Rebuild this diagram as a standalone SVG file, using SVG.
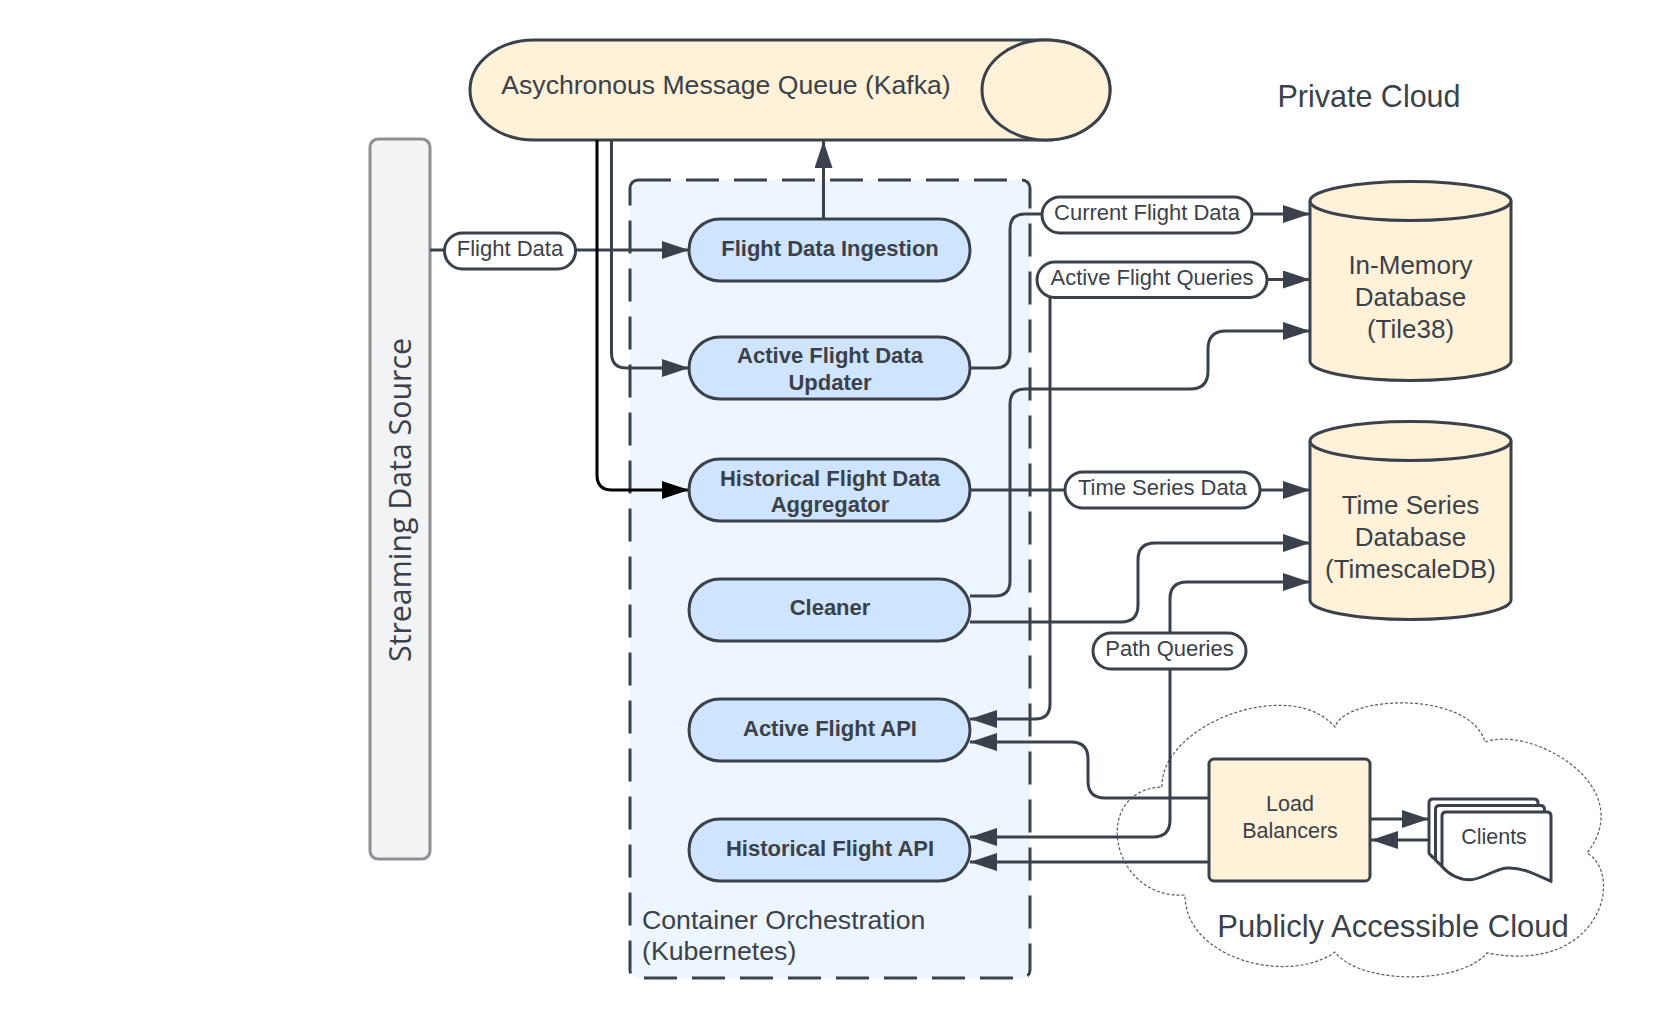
<svg xmlns="http://www.w3.org/2000/svg" width="1675" height="1028" viewBox="0 0 1675 1028">
<style>
.t{font-family:"Liberation Sans",Arial,sans-serif;fill:#3a414a;text-anchor:middle}
.node{fill:#cfe4ff;stroke:#3a414a;stroke-width:3}
.nt{font-size:22px;font-weight:bold}
.lbl{fill:#ffffff;stroke:#3a414a;stroke-width:3}
.lt{font-size:22px}
.db{fill:#fff2d8;stroke:#3a414a;stroke-width:3}
.dbt{font-size:26px}
.ln{fill:none;stroke:#3a414a;stroke-width:3}
.doc{fill:#ffffff;stroke:#3a414a;stroke-width:3;stroke-linejoin:round}
</style>
<defs>
<marker id="arr" markerUnits="userSpaceOnUse" viewBox="0 0 28 20" markerWidth="28" markerHeight="20" refX="27" refY="9" orient="auto-start-reverse"><path d="M0,0 L27,9 L0,18 Z" fill="#3a414a"/></marker>
<marker id="arrk" markerUnits="userSpaceOnUse" viewBox="0 0 28 20" markerWidth="28" markerHeight="20" refX="27" refY="9" orient="auto-start-reverse"><path d="M0,0 L27,9 L0,18 Z" fill="#000000"/></marker>
<path id="docshape" d="M4,0 H105 Q109,0 109,4 V69.4 C95,63 80,55 65,56 C52,57 40,67.7 28,67.7 C14,67.7 5,60 0,54.4 V4 Q0,0 4,0 Z"/>
</defs>
<rect width="1675" height="1028" fill="#ffffff"/>

<g id="public-cloud">
<path d="M1162,787 C1160,725 1290,675 1335,727 C1345,695 1470,690 1485,742 C1530,725 1640,785 1587,853 C1625,875 1600,975 1487,953 C1460,985 1360,985 1335,952 C1290,985 1185,960 1185,895 C1110,900 1090,790 1162,787 Z" fill="#ffffff" stroke="#555a60" stroke-width="1.2" stroke-dasharray="3 2"/>
<text class="t" x="1393" y="937" font-size="31px">Publicly Accessible Cloud</text>
</g>

<g id="private-cloud-label">
<text class="t" x="1369" y="107" font-size="30.5px">Private Cloud</text>
</g>

<g id="container-orchestration">
<rect x="630" y="180" width="400" height="798" rx="8" fill="#edf5ff" stroke="#3a414a" stroke-width="3" stroke-dasharray="33 15"/>
<text class="t" x="642" y="929" font-size="26.7px" style="text-anchor:start">Container Orchestration</text>
<text class="t" x="642" y="960" font-size="26.7px" style="text-anchor:start">(Kubernetes)</text>
</g>

<g id="streaming-data-source">
<rect x="370" y="139" width="60" height="720" rx="8" fill="#f2f3f5" stroke="#8c8f94" stroke-width="3"/>
<text x="0" y="0" transform="translate(411,500) rotate(-90)" font-family="'Open Sans',sans-serif" font-size="30.3px" fill="#3a414a" text-anchor="middle">Streaming Data Source</text>
</g>

<g id="kafka">
<path d="M534,40 H1046 A64,50 0 0 1 1046,140 H534 A64,50 0 0 1 534,40 Z" class="db"/>
<ellipse cx="1046" cy="90" rx="64" ry="50" class="db"/>
<text class="t" x="726" y="94" font-size="26.6px">Asychronous Message Queue (Kafka)</text>
</g>

<g id="connectors">
<path class="ln" d="M430,250 H689" marker-end="url(#arr)"/>
<path class="ln" d="M823.5,219 V141" marker-end="url(#arr)"/>
<path class="ln" d="M611.5,140 V353 Q611.5,368 626.5,368 H689" marker-end="url(#arr)"/>
<path d="M597,140 V475 Q597,490 612,490 H689" fill="none" stroke="#000000" stroke-width="3" marker-end="url(#arrk)"/>
<path class="ln" d="M970,368 H995 Q1010,368 1010,353 V229 Q1010,214 1025,214 H1310" marker-end="url(#arr)"/>
<path class="ln" d="M1310,279.5 H1065 Q1050,279.5 1050,294.5 V704 Q1050,719 1035,719 H970" marker-start="url(#arr)" marker-end="url(#arr)"/>
<path class="ln" d="M970,490 H1310" marker-end="url(#arr)"/>
<path class="ln" d="M970,596 H995 Q1010,596 1010,581 V404 Q1010,389 1025,389 H1190 Q1208,389 1208,371 V349 Q1208,331 1226,331 H1310" marker-end="url(#arr)"/>
<path class="ln" d="M970,622 H1121 Q1138,622 1138,605 V560 Q1138,543 1155,543 H1310" marker-end="url(#arr)"/>
<path class="ln" d="M1310,582 H1187 Q1170,582 1170,599 V820 Q1170,837 1153,837 H970" marker-start="url(#arr)" marker-end="url(#arr)"/>
<path class="ln" d="M1209,798 H1105 Q1088,798 1088,781 V759 Q1088,742 1071,742 H970" marker-end="url(#arr)"/>
<path class="ln" d="M1209,862 H970" marker-end="url(#arr)"/>
<path class="ln" d="M1370,819 H1429" marker-end="url(#arr)"/>
<path class="ln" d="M1429,840 H1371" marker-end="url(#arr)"/>
</g>

<g id="lbl-flight-data">
<rect x="444.5" y="233" width="131" height="36" rx="18" class="lbl"/>
<text class="t lt" x="510" y="256">Flight Data</text>
</g>
<g id="lbl-current-flight-data">
<rect x="1042" y="197" width="210" height="36" rx="18" class="lbl"/>
<text class="t lt" x="1147" y="219.5">Current Flight Data</text>
</g>
<g id="lbl-active-flight-queries">
<rect x="1037" y="262" width="230" height="35.5" rx="17.75" class="lbl"/>
<text class="t lt" x="1152" y="284.5">Active Flight Queries</text>
</g>
<g id="lbl-time-series-data">
<rect x="1065" y="472" width="195" height="36" rx="18" class="lbl"/>
<text class="t lt" x="1162.5" y="494.5">Time Series Data</text>
</g>
<g id="lbl-path-queries">
<rect x="1093" y="633" width="153" height="36" rx="18" class="lbl"/>
<text class="t lt" x="1169.5" y="656">Path Queries</text>
</g>

<g id="flight-data-ingestion">
<rect x="689" y="219" width="281" height="62" rx="31" class="node"/>
<text class="t nt" x="830" y="255.5">Flight Data Ingestion</text>
</g>
<g id="active-flight-data-updater">
<rect x="689" y="337" width="281" height="62" rx="31" class="node"/>
<text class="t nt" x="830" y="363">Active Flight Data</text>
<text class="t nt" x="830" y="389.5">Updater</text>
</g>
<g id="historical-flight-data-aggregator">
<rect x="689" y="459" width="281" height="62" rx="31" class="node"/>
<text class="t nt" x="830" y="486">Historical Flight Data</text>
<text class="t nt" x="830" y="512">Aggregator</text>
</g>
<g id="cleaner">
<rect x="689" y="579" width="281" height="62" rx="31" class="node"/>
<text class="t nt" x="830" y="615">Cleaner</text>
</g>
<g id="active-flight-api">
<rect x="689" y="699" width="281" height="62" rx="31" class="node"/>
<text class="t nt" x="830" y="735.5">Active Flight API</text>
</g>
<g id="historical-flight-api">
<rect x="689" y="819" width="281" height="62" rx="31" class="node"/>
<text class="t nt" x="830" y="855.5">Historical Flight API</text>
</g>

<g id="in-memory-db">
<path d="M1310,201 A100.5,19.5 0 0 1 1511,201 V361 A100.5,19.5 0 0 1 1310,361 Z" class="db"/>
<path d="M1310,201 A100.5,19.5 0 0 0 1511,201" fill="none" stroke="#3a414a" stroke-width="3"/>
<text class="t dbt" x="1410.5" y="273.5">In-Memory</text>
<text class="t dbt" x="1410.5" y="305.5">Database</text>
<text class="t dbt" x="1410.5" y="337.5">(Tile38)</text>
</g>
<g id="time-series-db">
<path d="M1310,441 A100.5,19.5 0 0 1 1511,441 V600 A100.5,19.5 0 0 1 1310,600 Z" class="db"/>
<path d="M1310,441 A100.5,19.5 0 0 0 1511,441" fill="none" stroke="#3a414a" stroke-width="3"/>
<text class="t dbt" x="1410.5" y="513.5">Time Series</text>
<text class="t dbt" x="1410.5" y="545.5">Database</text>
<text class="t dbt" x="1410.5" y="578">(TimescaleDB)</text>
</g>

<g id="load-balancers">
<rect x="1209" y="759" width="161" height="122" rx="5" fill="#fff2d8" stroke="#3a414a" stroke-width="3"/>
<text class="t" x="1290" y="810.5" font-size="21.5px">Load</text>
<text class="t" x="1290" y="837.5" font-size="21.5px">Balancers</text>
</g>

<g id="clients">
<use href="#docshape" x="1429" y="799" class="doc"/>
<use href="#docshape" x="1435.5" y="805.5" class="doc"/>
<use href="#docshape" x="1442" y="812" class="doc"/>
<text class="t" x="1494" y="844" font-size="21.5px">Clients</text>
</g>
</svg>
